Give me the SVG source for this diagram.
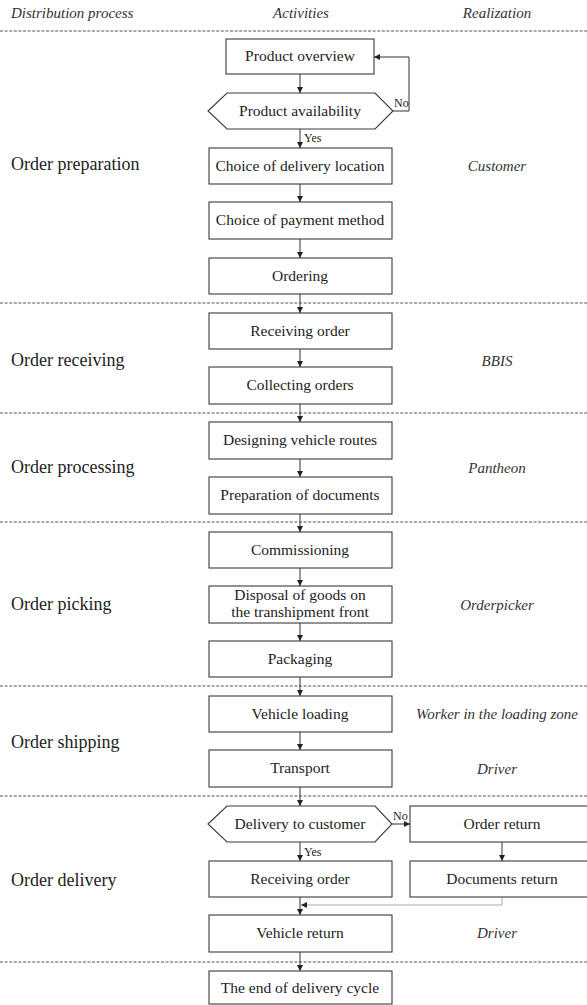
<svg xmlns="http://www.w3.org/2000/svg" width="587" height="1005" viewBox="0 0 587 1005">
<defs>
<style>
.hdr{font-family:"Liberation Serif",serif;font-style:italic;font-size:15px;fill:#333}
.sec{font-family:"Liberation Serif",serif;font-size:18px;fill:#222}
.real{font-family:"Liberation Serif",serif;font-style:italic;font-size:15px;fill:#333;text-anchor:middle}
.box{fill:#fff;stroke:#3a3a3a;stroke-width:1.1}
.t{font-family:"Liberation Serif",serif;font-size:15.5px;fill:#222;text-anchor:middle}
.lbl{font-family:"Liberation Serif",serif;font-size:12px;fill:#222}
.sep{stroke:#555;stroke-width:1.2;stroke-dasharray:3 1.6}
.c{fill:none;stroke:#333;stroke-width:1}
.cl{fill:none;stroke:#aaa;stroke-width:1}
</style>
<marker id="ah" viewBox="0 0 10 10" refX="10" refY="5" markerWidth="6" markerHeight="6" orient="auto" markerUnits="userSpaceOnUse">
<path d="M0,0 L10,5 L0,10 z" fill="#222"/>
</marker>
</defs>
<rect width="587" height="1005" fill="#fff"/>

<g id="headers">
<text class="hdr" x="11" y="18">Distribution process</text>
<text class="hdr" x="301" y="18" text-anchor="middle">Activities</text>
<text class="hdr" x="497" y="18" text-anchor="middle">Realization</text>
</g>

<g id="separators">
<line class="sep" x1="0" y1="31" x2="587" y2="31"/>
<line class="sep" x1="0" y1="303" x2="587" y2="303"/>
<line class="sep" x1="0" y1="413" x2="587" y2="413"/>
<line class="sep" x1="0" y1="522" x2="587" y2="522"/>
<line class="sep" x1="0" y1="686" x2="587" y2="686"/>
<line class="sep" x1="0" y1="796" x2="587" y2="796"/>
<line class="sep" x1="0" y1="962" x2="587" y2="962"/>
</g>

<g id="sections">
<text class="sec" x="11" y="170">Order preparation</text>
<text class="sec" x="11" y="366">Order receiving</text>
<text class="sec" x="11" y="473">Order processing</text>
<text class="sec" x="11" y="610">Order picking</text>
<text class="sec" x="11" y="748">Order shipping</text>
<text class="sec" x="11" y="886">Order delivery</text>
</g>

<g id="realization">
<text class="real" x="497" y="171">Customer</text>
<text class="real" x="497" y="366">BBIS</text>
<text class="real" x="497" y="473">Pantheon</text>
<text class="real" x="497" y="610">Orderpicker</text>
<text class="real" x="497" y="719">Worker in the loading zone</text>
<text class="real" x="497" y="774">Driver</text>
<text class="real" x="497" y="938">Driver</text>
</g>

<g id="connectors">
<line class="c" x1="300" y1="74" x2="300" y2="93" marker-end="url(#ah)"/>
<line class="c" x1="300" y1="129" x2="300" y2="148" marker-end="url(#ah)"/>
<polyline class="c" points="393,111 409,111 409,57 374,57" marker-end="url(#ah)"/>
<line class="c" x1="300" y1="184" x2="300" y2="202" marker-end="url(#ah)"/>
<line class="c" x1="300" y1="239" x2="300" y2="258" marker-end="url(#ah)"/>
<line class="c" x1="300" y1="294" x2="300" y2="313" marker-end="url(#ah)"/>
<line class="c" x1="300" y1="349" x2="300" y2="367" marker-end="url(#ah)"/>
<line class="c" x1="300" y1="404" x2="300" y2="422" marker-end="url(#ah)"/>
<line class="c" x1="300" y1="459" x2="300" y2="477" marker-end="url(#ah)"/>
<line class="c" x1="300" y1="514" x2="300" y2="532" marker-end="url(#ah)"/>
<line class="c" x1="300" y1="568" x2="300" y2="586" marker-end="url(#ah)"/>
<line class="c" x1="300" y1="623" x2="300" y2="641" marker-end="url(#ah)"/>
<line class="c" x1="300" y1="677" x2="300" y2="696" marker-end="url(#ah)"/>
<line class="c" x1="300" y1="732" x2="300" y2="750" marker-end="url(#ah)"/>
<line class="c" x1="300" y1="787" x2="300" y2="806" marker-end="url(#ah)"/>
<line class="c" x1="392" y1="824" x2="410" y2="824" marker-end="url(#ah)"/>
<line class="c" x1="502" y1="842" x2="502" y2="861" marker-end="url(#ah)"/>
<line class="c" x1="300" y1="842" x2="300" y2="861" marker-end="url(#ah)"/>
<line class="c" x1="300" y1="897" x2="300" y2="915" marker-end="url(#ah)"/>
<polyline class="cl" points="502,897 502,905 301,905" marker-end="url(#ah)"/>
<line class="c" x1="300" y1="952" x2="300" y2="971" marker-end="url(#ah)"/>
<text class="lbl" x="394" y="107">No</text>
<text class="lbl" x="304" y="142">Yes</text>
<text class="lbl" x="393" y="820">No</text>
<text class="lbl" x="304" y="856">Yes</text>
</g>

<g id="product-overview"><rect class="box" x="226" y="39" width="148" height="35"/><text class="t" x="300" y="61">Product overview</text></g>
<g id="product-availability"><polygon class="box" points="208,111 227,93 375,93 393,111 375,129 227,129"/><text class="t" x="300" y="116">Product availability</text></g>
<g id="choice-delivery"><rect class="box" x="209" y="148" width="183" height="36"/><text class="t" x="300" y="171">Choice of delivery location</text></g>
<g id="choice-payment"><rect class="box" x="209" y="202" width="183" height="37"/><text class="t" x="300" y="225">Choice of payment method</text></g>
<g id="ordering"><rect class="box" x="209" y="258" width="183" height="36"/><text class="t" x="300" y="281">Ordering</text></g>
<g id="receiving-order-1"><rect class="box" x="209" y="313" width="183" height="36"/><text class="t" x="300" y="336">Receiving order</text></g>
<g id="collecting-orders"><rect class="box" x="209" y="367" width="183" height="37"/><text class="t" x="300" y="390">Collecting orders</text></g>
<g id="designing-routes"><rect class="box" x="209" y="422" width="183" height="37"/><text class="t" x="300" y="445">Designing vehicle routes</text></g>
<g id="preparation-documents"><rect class="box" x="209" y="477" width="183" height="37"/><text class="t" x="300" y="500">Preparation of documents</text></g>
<g id="commissioning"><rect class="box" x="209" y="532" width="183" height="36"/><text class="t" x="300" y="555">Commissioning</text></g>
<g id="disposal"><rect class="box" x="209" y="586" width="183" height="37"/><text class="t" x="300" y="600">Disposal of goods on</text><text class="t" x="300" y="617">the transhipment front</text></g>
<g id="packaging"><rect class="box" x="209" y="641" width="183" height="36"/><text class="t" x="300" y="664">Packaging</text></g>
<g id="vehicle-loading"><rect class="box" x="209" y="696" width="183" height="36"/><text class="t" x="300" y="719">Vehicle loading</text></g>
<g id="transport"><rect class="box" x="209" y="750" width="183" height="37"/><text class="t" x="300" y="773">Transport</text></g>
<g id="delivery-to-customer"><polygon class="box" points="208,824 227,806 375,806 392,824 375,842 227,842"/><text class="t" x="300" y="829">Delivery to customer</text></g>
<g id="order-return"><rect class="box" x="410" y="806" width="186" height="36"/><text class="t" x="502" y="829">Order return</text></g>
<g id="receiving-order-2"><rect class="box" x="209" y="861" width="183" height="36"/><text class="t" x="300" y="884">Receiving order</text></g>
<g id="documents-return"><rect class="box" x="410" y="861" width="186" height="36"/><text class="t" x="502" y="884">Documents return</text></g>
<g id="vehicle-return"><rect class="box" x="209" y="915" width="183" height="37"/><text class="t" x="300" y="938">Vehicle return</text></g>
<g id="end-cycle"><rect class="box" x="209" y="971" width="183" height="33"/><text class="t" x="300" y="993">The end of delivery cycle</text></g>
</svg>
